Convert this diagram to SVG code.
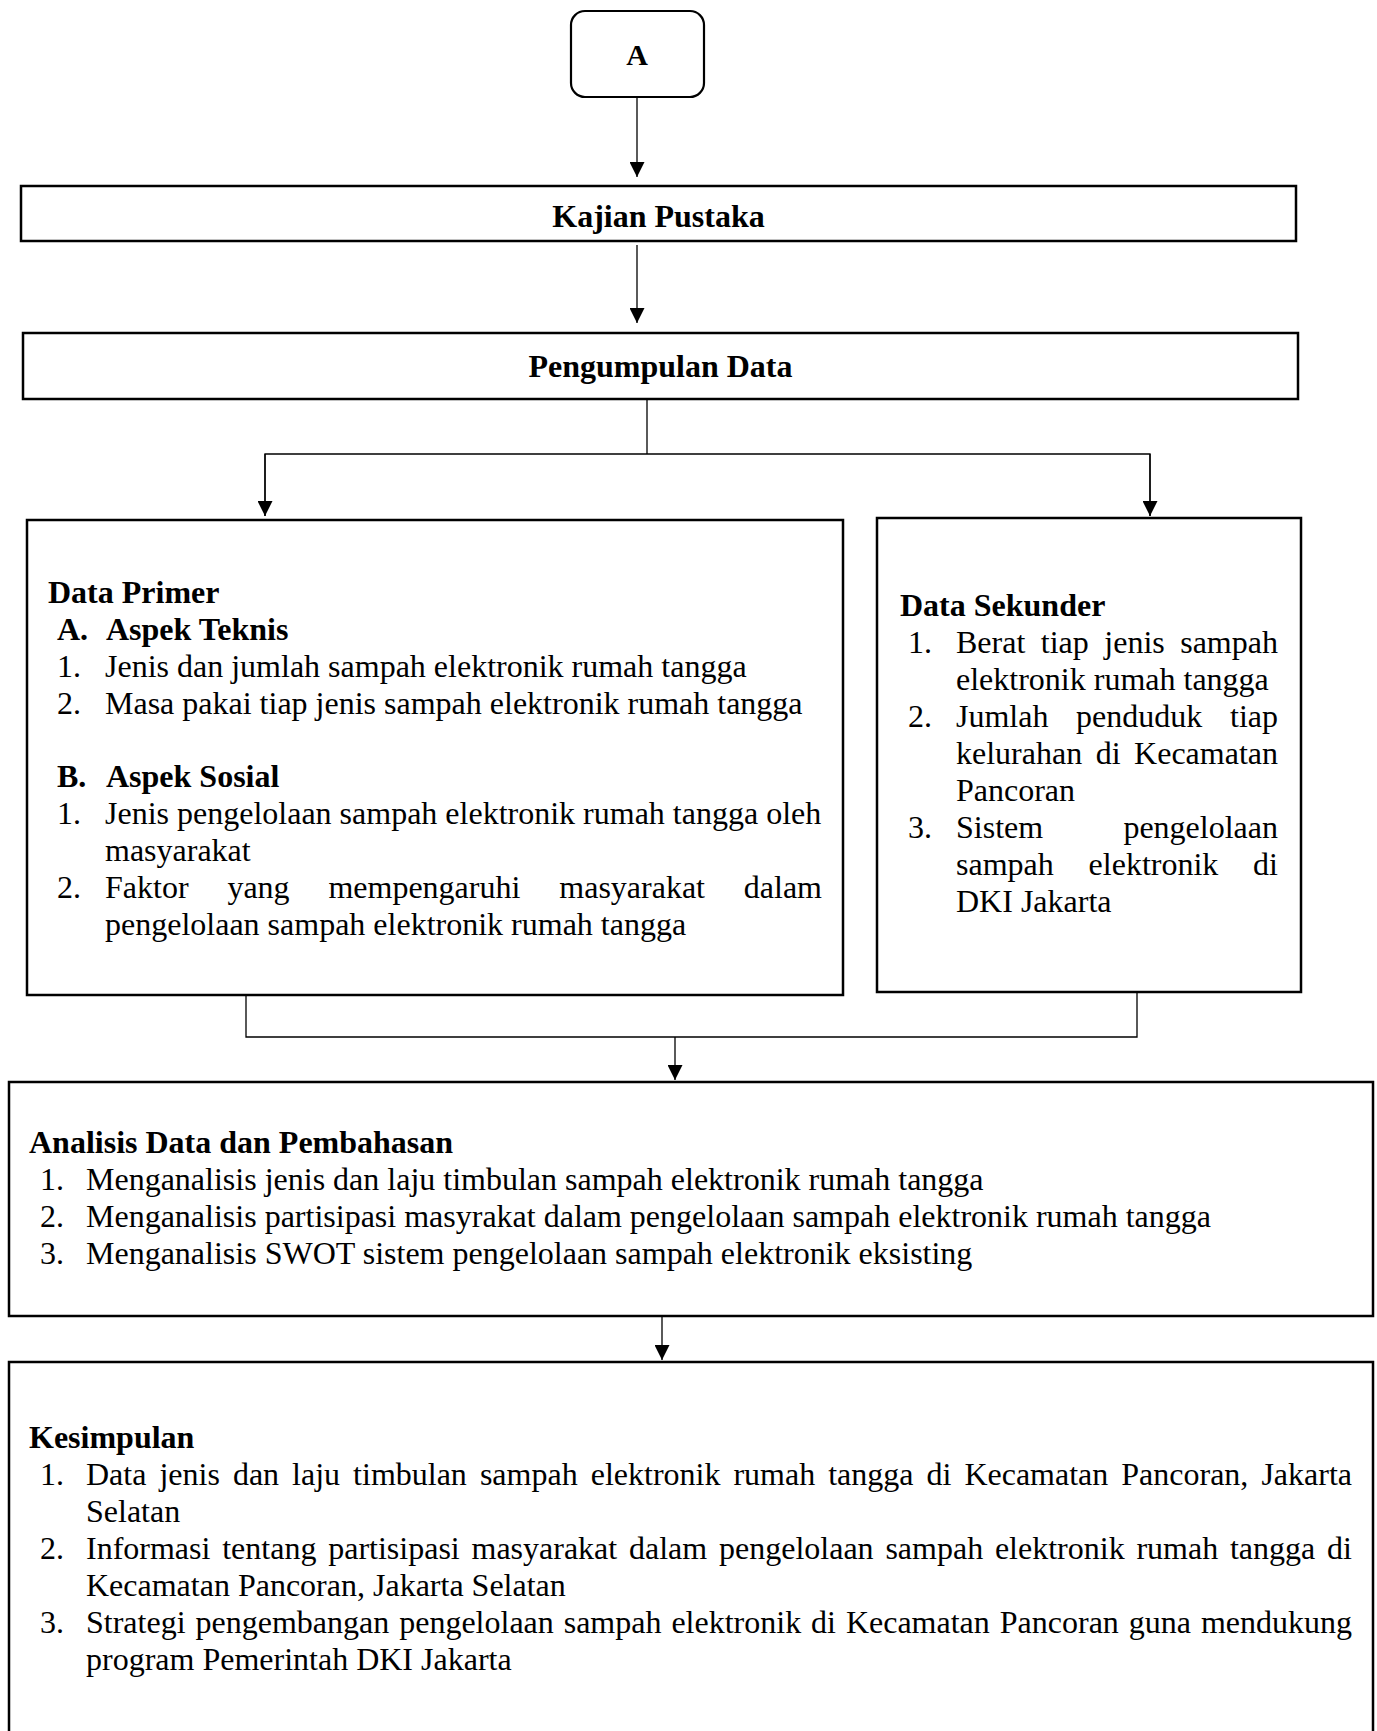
<svg xmlns="http://www.w3.org/2000/svg" width="1377" height="1731" viewBox="0 0 1377 1731">
<style>
.box{fill:#fff;stroke:#000;stroke-width:2.5}
.con{fill:none;stroke:#000;stroke-width:1.3}
text{font-family:"Liberation Serif","Times New Roman",serif;font-size:32px;fill:#000}
.b{font-weight:bold}
.c{text-anchor:middle}
</style>
<defs>
<marker id="arr" markerUnits="userSpaceOnUse" markerWidth="15" markerHeight="15" viewBox="0 0 15 15" refX="15" refY="7.5" orient="auto">
<path d="M0,0 L15,7.5 L0,15 z" fill="#000"/>
</marker>
</defs>
<rect width="1377" height="1731" fill="#fff"/>

<g id="connectors">
<line class="con" x1="637" y1="97" x2="637" y2="177" marker-end="url(#arr)"/>
<line class="con" x1="637" y1="245" x2="637" y2="323" marker-end="url(#arr)"/>
<polyline class="con" points="647,399 647,454"/>
<polyline class="con" points="265,516 265,454 1150,454 1150,516"/>
<line class="con" x1="265" y1="454" x2="265" y2="516" marker-end="url(#arr)"/>
<line class="con" x1="1150" y1="454" x2="1150" y2="516" marker-end="url(#arr)"/>
<polyline class="con" points="246,995 246,1037 1137,1037 1137,992"/>
<line class="con" x1="675" y1="1037" x2="675" y2="1080" marker-end="url(#arr)"/>
<line class="con" x1="662" y1="1316" x2="662" y2="1360" marker-end="url(#arr)"/>
</g>

<g id="node-a">
<rect class="box" x="571" y="11" width="133" height="86" rx="14" ry="14" style="stroke-width:2.2"/>
<text class="b c" x="637" y="65" style="font-size:30px">A</text>
</g>

<g id="node-kajian">
<rect class="box" x="21" y="186" width="1275" height="55"/>
<text class="b c" x="658.5" y="227">Kajian Pustaka</text>
</g>

<g id="node-pengumpulan">
<rect class="box" x="23" y="333" width="1275" height="66"/>
<text class="b c" x="660.5" y="377">Pengumpulan Data</text>
</g>

<g id="node-primer">
<rect class="box" x="27" y="520" width="816" height="475"/>
<text class="b" x="48" y="603">Data Primer</text>
<text class="b" x="57" y="640">A.</text>
<text class="b" x="106" y="640">Aspek Teknis</text>
<text x="57" y="677">1.</text>
<text x="105" y="677">Jenis dan jumlah sampah elektronik rumah tangga</text>
<text x="57" y="714">2.</text>
<text x="105" y="714">Masa pakai tiap jenis sampah elektronik rumah tangga</text>
<text class="b" x="57" y="787">B.</text>
<text class="b" x="106" y="787">Aspek Sosial</text>
<text x="57" y="824">1.</text>
<text x="105" y="824">Jenis pengelolaan sampah elektronik rumah tangga oleh</text>
<text x="105" y="861">masyarakat</text>
<text x="57" y="898">2.</text>
<text y="898"><tspan x="105">Faktor</tspan> <tspan x="227.4">yang</tspan> <tspan x="328.4">mempengaruhi</tspan> <tspan x="559.3">masyarakat</tspan> <tspan x="743.8">dalam</tspan></text>
<text x="105" y="935">pengelolaan sampah elektronik rumah tangga</text>
</g>

<g id="node-sekunder">
<rect class="box" x="877" y="518" width="424" height="474"/>
<text class="b" x="900" y="616">Data Sekunder</text>
<text x="908" y="653">1.</text>
<text y="653"><tspan x="956">Berat</tspan> <tspan x="1040.8">tiap</tspan> <tspan x="1104.3">jenis</tspan> <tspan x="1180.2">sampah</tspan></text>
<text x="956" y="690">elektronik rumah tangga</text>
<text x="908" y="727">2.</text>
<text y="727"><tspan x="956">Jumlah</tspan> <tspan x="1076.1">penduduk</tspan> <tspan x="1230">tiap</tspan></text>
<text y="764"><tspan x="956">kelurahan</tspan> <tspan x="1095.7">di</tspan> <tspan x="1134.1">Kecamatan</tspan></text>
<text x="956" y="801">Pancoran</text>
<text x="908" y="838">3.</text>
<text y="838"><tspan x="956">Sistem</tspan> <tspan x="1123.4">pengelolaan</tspan></text>
<text y="875"><tspan x="956">sampah</tspan> <tspan x="1088.6">elektronik</tspan> <tspan x="1253.1">di</tspan></text>
<text x="956" y="912">DKI Jakarta</text>
</g>

<g id="node-analisis">
<rect class="box" x="9" y="1082" width="1364" height="234"/>
<text class="b" x="29" y="1153">Analisis Data dan Pembahasan</text>
<text x="40" y="1190">1.</text>
<text x="86" y="1190">Menganalisis jenis dan laju timbulan sampah elektronik rumah tangga</text>
<text x="40" y="1227">2.</text>
<text x="86" y="1227">Menganalisis partisipasi masyrakat dalam pengelolaan sampah elektronik rumah tangga</text>
<text x="40" y="1264">3.</text>
<text x="86" y="1264">Menganalisis SWOT sistem pengelolaan sampah elektronik eksisting</text>
</g>

<g id="node-kesimpulan">
<rect class="box" x="9" y="1362" width="1364" height="390"/>
<text class="b" x="29" y="1448">Kesimpulan</text>
<text x="40" y="1485">1.</text>
<text y="1485"><tspan x="86">Data</tspan> <tspan x="159.4">jenis</tspan> <tspan x="232.9">dan</tspan> <tspan x="292.1">laju</tspan> <tspan x="353.1">timbulan</tspan> <tspan x="479.9">sampah</tspan> <tspan x="590.7">elektronik</tspan> <tspan x="733.4">rumah</tspan> <tspan x="828.2">tangga</tspan> <tspan x="926.5">di</tspan> <tspan x="964.4">Kecamatan</tspan> <tspan x="1121.3">Pancoran,</tspan> <tspan x="1261.4">Jakarta</tspan></text>
<text x="86" y="1522">Selatan</text>
<text x="40" y="1559">2.</text>
<text y="1559"><tspan x="86">Informasi</tspan> <tspan x="222.2">tentang</tspan> <tspan x="328.2">partisipasi</tspan> <tspan x="471.5">masyarakat</tspan> <tspan x="629">dalam</tspan> <tspan x="719">pengelolaan</tspan> <tspan x="885.4">sampah</tspan> <tspan x="994.9">elektronik</tspan> <tspan x="1136.4">rumah</tspan> <tspan x="1229.9">tangga</tspan> <tspan x="1327">di</tspan></text>
<text x="86" y="1596">Kecamatan Pancoran, Jakarta Selatan</text>
<text x="40" y="1633">3.</text>
<text y="1633"><tspan x="86">Strategi</tspan> <tspan x="195.5">pengembangan</tspan> <tspan x="399.2">pengelolaan</tspan> <tspan x="563.7">sampah</tspan> <tspan x="671.4">elektronik</tspan> <tspan x="811.1">di</tspan> <tspan x="845.9">Kecamatan</tspan> <tspan x="999.8">Pancoran</tspan> <tspan x="1128.8">guna</tspan> <tspan x="1200.9">mendukung</tspan></text>
<text x="86" y="1670">program Pemerintah DKI Jakarta</text>
</g>
</svg>
